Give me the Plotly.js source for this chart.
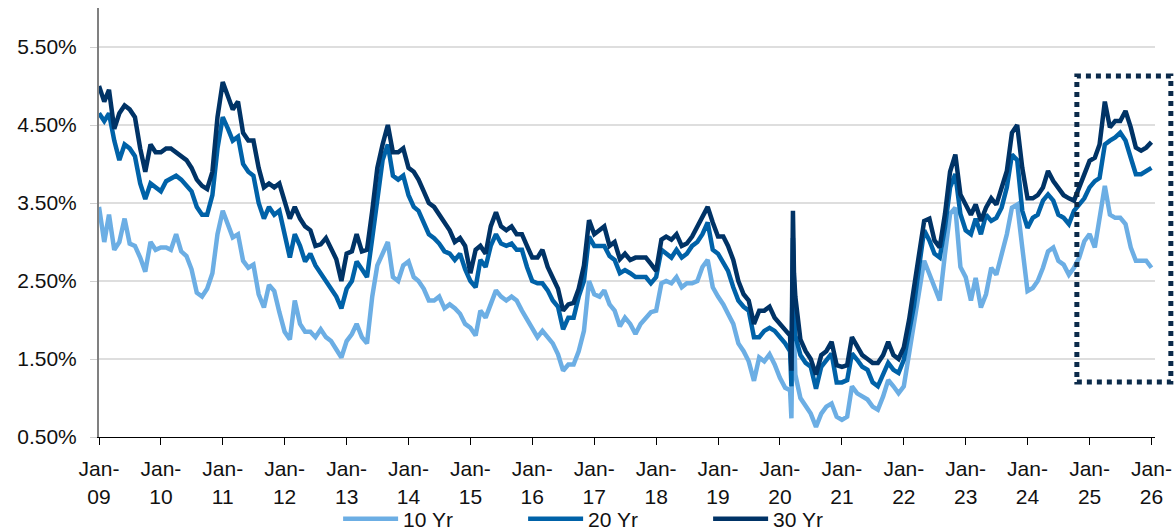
<!DOCTYPE html>
<html><head><meta charset="utf-8">
<script src="https://cdn.plot.ly/plotly-3.0.1.min.js"></script>
<style>html,body{margin:0;padding:0;background:#fff;} #chart{width:1174px;height:532px;}</style>
</head><body><div id="chart"></div>
<script>
// ---- data (monthly, first of month, Jan-2009 .. Jan-2026) ----
const seriesNames = ['10 Yr', '20 Yr', '30 Yr'];
const seriesColors = ['#6CAEE4', '#0062A8', '#003366'];
const startYear = 2009;

const yield10 = [
  3.45, 3.0, 3.35, 2.9, 3.0, 3.3, 2.98, 2.95, 2.8, 2.62, 3.0, 2.9,
  2.93, 2.93, 2.9, 3.1, 2.88, 2.82, 2.65, 2.35, 2.3, 2.4, 2.6, 3.1,
  3.4, 3.23, 3.06, 3.1, 2.76, 2.67, 2.71, 2.33, 2.16, 2.45, 2.37, 2.1,
  1.85, 1.75, 2.25, 1.95, 1.85, 1.85, 1.78, 1.88, 1.78, 1.73, 1.62, 1.52,
  1.73, 1.82, 1.95, 1.78, 1.7, 2.3, 2.7, 2.85, 3.0, 2.55, 2.5, 2.7,
  2.75, 2.55, 2.5, 2.4, 2.25, 2.25, 2.3, 2.15, 2.2, 2.15, 2.08, 1.95,
  1.9, 1.8, 2.12, 2.03, 2.2, 2.38, 2.3, 2.25, 2.3, 2.25, 2.12, 2.0,
  1.9, 1.78, 1.86, 1.78, 1.7, 1.56, 1.35, 1.43, 1.43, 1.6, 1.86, 2.5,
  2.33, 2.3, 2.38, 2.2, 2.12, 1.92, 2.03, 1.95, 1.82, 1.95, 2.03, 2.1,
  2.12, 2.47, 2.5, 2.47, 2.55, 2.42, 2.47, 2.47, 2.5, 2.68, 2.77, 2.42,
  2.3, 2.2, 2.08, 1.95, 1.7, 1.6, 1.47, 1.22, 1.52, 1.47, 1.56, 1.43,
  1.26, 1.13, 1.1, 1.3, 1.0, 0.89, 0.8, 0.63, 0.8, 0.89, 0.93, 0.76,
  0.72, 0.76, 1.15, 1.06, 1.02, 0.98, 0.89, 0.85, 1.02, 1.23, 1.15, 1.06,
  1.15, 1.57, 2.0, 2.42, 2.76, 2.59, 2.42, 2.25, 2.85, 3.36, 3.44, 2.68,
  2.55, 2.25, 2.54, 2.16, 2.33, 2.67, 2.58, 2.84, 3.1, 3.44, 3.48, 2.93,
  2.37, 2.41, 2.5, 2.67, 2.88, 2.93, 2.76, 2.71, 2.58, 2.67, 2.8, 3.01,
  3.1, 2.93, 3.31, 3.72, 3.35, 3.31, 3.31, 3.23, 2.93, 2.76, 2.76, 2.76,
  2.67
];
const yield20 = [
  4.65, 4.55, 4.65, 4.3, 4.05, 4.25, 4.2, 4.1, 3.75, 3.55, 3.75, 3.7,
  3.65, 3.78, 3.82, 3.85, 3.8, 3.72, 3.65, 3.45, 3.35, 3.35, 3.6, 4.2,
  4.6, 4.45, 4.3, 4.35, 4.0, 3.9, 3.85, 3.5, 3.3, 3.45, 3.35, 3.4,
  3.1, 2.8, 3.1, 2.95, 2.75, 2.85, 2.7, 2.6, 2.5, 2.42, 2.3, 2.15,
  2.4, 2.5, 2.75, 2.65, 2.55, 3.05, 3.6, 4.05, 4.25, 3.85, 3.8, 3.85,
  3.6, 3.45, 3.4, 3.25, 3.1, 3.05, 2.98, 2.88, 2.85, 2.77, 2.85, 2.65,
  2.5, 2.42, 2.77, 2.68, 2.95, 3.1, 2.98, 2.95, 2.98, 2.9, 2.9, 2.68,
  2.5, 2.47, 2.47, 2.38, 2.25, 2.17, 1.88, 2.03, 2.03, 2.3, 2.5, 3.07,
  2.95, 2.95, 2.95, 2.82, 2.77, 2.6, 2.64, 2.6, 2.55, 2.55, 2.55, 2.47,
  2.55, 2.9, 2.85, 2.8, 2.9, 2.8, 2.85, 2.95, 3.0, 3.1, 3.25, 2.9,
  2.85, 2.72, 2.63, 2.42, 2.25, 2.17, 2.12, 1.78, 1.78, 1.86, 1.9, 1.86,
  1.78, 1.7, 1.6, 1.8, 1.55, 1.45, 1.4, 1.12, 1.4, 1.49, 1.57, 1.2,
  1.2, 1.23, 1.57, 1.49, 1.4, 1.36, 1.2, 1.15, 1.32, 1.45, 1.36, 1.32,
  1.49, 1.83, 2.17, 2.68, 3.15, 3.02, 2.85, 2.8, 3.19, 3.7, 3.87, 3.36,
  3.15, 3.1, 3.3, 3.1, 3.35, 3.27, 3.31, 3.44, 3.7, 4.12, 4.05, 3.4,
  3.18, 3.31, 3.35, 3.53, 3.61, 3.53, 3.35, 3.31, 3.23, 3.4, 3.48, 3.56,
  3.7, 3.78, 3.82, 4.25, 4.3, 4.34, 4.4, 4.3, 4.08, 3.87, 3.87, 3.91,
  3.95
];
const yield30 = [
  5.0, 4.8, 4.95, 4.45, 4.65, 4.75, 4.7, 4.6, 4.2, 3.9, 4.25, 4.15,
  4.15, 4.2, 4.2, 4.15, 4.1, 4.05, 3.95, 3.8, 3.72, 3.68, 3.9, 4.6,
  5.05, 4.85, 4.7, 4.8, 4.4, 4.3, 4.3, 3.95, 3.7, 3.75, 3.7, 3.75,
  3.5, 3.3, 3.45, 3.3, 3.2, 3.15, 2.95, 2.97, 3.05, 2.92, 2.78, 2.5,
  2.85, 2.88, 3.1, 2.88, 2.9, 3.4, 3.95, 4.25, 4.5, 4.15, 4.15, 4.2,
  3.95, 3.9, 3.8, 3.65, 3.5, 3.45, 3.35, 3.25, 3.15, 3.0, 3.05, 2.95,
  2.6, 2.9, 2.95, 2.85, 3.2, 3.38, 3.2, 3.15, 3.2, 3.1, 3.1, 2.95,
  2.8, 2.8, 2.9, 2.68, 2.55, 2.4, 2.12, 2.2, 2.22, 2.4, 2.7, 3.28,
  3.1, 3.15, 3.2, 2.95, 3.0, 2.78, 2.85, 2.77, 2.8, 2.8, 2.8, 2.72,
  2.63, 3.03, 3.07, 3.03, 3.1, 2.95, 2.98, 3.07, 3.2, 3.33, 3.45, 3.25,
  3.07, 3.07, 2.95, 2.77, 2.5, 2.33, 2.25, 1.95, 2.12, 2.12, 2.17, 2.03,
  1.95, 1.86, 1.8, 2.3, 1.75, 1.6, 1.5, 1.3, 1.55, 1.6, 1.72, 1.42,
  1.4, 1.42, 1.78, 1.65, 1.55, 1.5, 1.45, 1.45, 1.55, 1.72, 1.55, 1.5,
  1.65, 2.0, 2.38, 2.85, 3.27, 3.3, 3.02, 2.93, 3.36, 3.9, 4.12, 3.61,
  3.49, 3.35, 3.48, 3.27, 3.44, 3.56, 3.48, 3.7, 3.91, 4.4, 4.5, 3.95,
  3.56, 3.56, 3.6, 3.7, 3.91, 3.78, 3.7, 3.6, 3.56, 3.53, 3.7, 3.87,
  4.04, 4.08, 4.25, 4.8, 4.47, 4.55, 4.55, 4.68, 4.47, 4.21, 4.17, 4.21,
  4.28
];

// March-2020 intra-month moves
const spikeDates = ['2020-03-09', '2020-03-18', '2020-03-24'];
const spike10 = [0.74, 2.3, 1.6];
const spike20 = [1.15, 3.05, 2.2];
const spike30 = [1.35, 3.4, 2.6];

const tickYears = ['09','10','11','12','13','14','15','16','17','18','19','20','21','22','23','24','25','26'];
const yTicks = [0.5, 1.5, 2.5, 3.5, 4.5, 5.5];
const yTickText = ['0.50%', '1.50%', '2.50%', '3.50%', '4.50%', '5.50%'];

// ---- build ----
function monthDates(n) {
  const out = [];
  for (let i = 0; i < n; i++) {
    const y = startYear + Math.floor(i / 12);
    const m = (i % 12) + 1;
    out.push(y + '-' + String(m).padStart(2, '0') + '-01');
  }
  return out;
}
function merge(vals, extra) {
  const d = monthDates(vals.length);
  const pts = d.map((x, i) => [x, vals[i]]).concat(spikeDates.map((x, i) => [x, extra[i]]));
  pts.sort((a, b) => (a[0] < b[0] ? -1 : a[0] > b[0] ? 1 : 0));
  return { x: pts.map(p => p[0]), y: pts.map(p => p[1]) };
}
const allVals = [yield10, yield20, yield30];
const allSpikes = [spike10, spike20, spike30];
const traces = allVals.map((v, i) => {
  const s = merge(v, allSpikes[i]);
  return {
    type: 'scatter', mode: 'lines', name: seriesNames[i],
    x: s.x, y: s.y,
    line: { color: seriesColors[i], width: 4.5 },
    hoverinfo: 'skip'
  };
});

const tickVals = tickYears.map(t => '20' + t + '-01-01');
const tickText = tickYears.map(t => 'Jan-<br>' + t);

const layout = {
  width: 1174, height: 532,
  margin: { l: 99, r: 19, t: 8, b: 95 },
  paper_bgcolor: '#fff', plot_bgcolor: '#fff',
  font: { family: 'Liberation Sans, Arial, sans-serif', size: 21, color: '#111' },
  showlegend: true,
  legend: {
    orientation: 'h', xref: 'container', yref: 'container',
    x: 0.288, xanchor: 'left', y: 0.063, yanchor: 'top',
    itemwidth: 55, entrywidth: 115, entrywidthmode: 'pixels',
    font: { size: 21, color: '#111' }, bgcolor: 'rgba(0,0,0,0)',
    traceorder: 'normal', itemclick: false
  },
  xaxis: {
    type: 'date', range: ['2009-01-01', '2026-01-22'],
    tickmode: 'array', tickvals: tickVals, ticktext: tickText,
    ticks: 'outside', ticklen: 7, tickwidth: 1, tickcolor: '#000',
    showline: true, linecolor: '#000', linewidth: 1,
    showgrid: false, zeroline: false, ticklabelstandoff: 6,
    tickfont: { size: 21, color: '#111' }
  },
  xaxis2: {
    type: 'date', range: ['2009-01-01', '2026-01-22'], overlaying: 'x', anchor: 'y',
    tickmode: 'array', tickvals: tickVals, ticks: 'inside', ticklen: 7, tickwidth: 1, tickcolor: '#000',
    showticklabels: false, showline: false, showgrid: false, zeroline: false
  },
  yaxis: {
    range: [0.5, 6.0], tickmode: 'array', tickvals: yTicks, ticktext: yTickText,
    ticks: 'outside', ticklen: 7, tickcolor: '#d0d0d0',
    showline: true, linecolor: '#808080', linewidth: 2,
    showgrid: true, gridcolor: '#dedede', gridwidth: 1.5, zeroline: false,
    ticklabelstandoff: 9, tickfont: { size: 21, color: '#111' }
  },
  shapes: [{
    type: 'rect', xref: 'paper', yref: 'paper',
    x0: 0.926, x1: 1.015, y0: 0.128, y1: 0.8415,
    line: { color: '#0B2A4A', width: 5, dash: 'dot' }, fillcolor: 'rgba(0,0,0,0)', layer: 'above'
  }]
};

Plotly.newPlot('chart', traces, layout, { displayModeBar: false, staticPlot: true });
</script>
</body></html>
